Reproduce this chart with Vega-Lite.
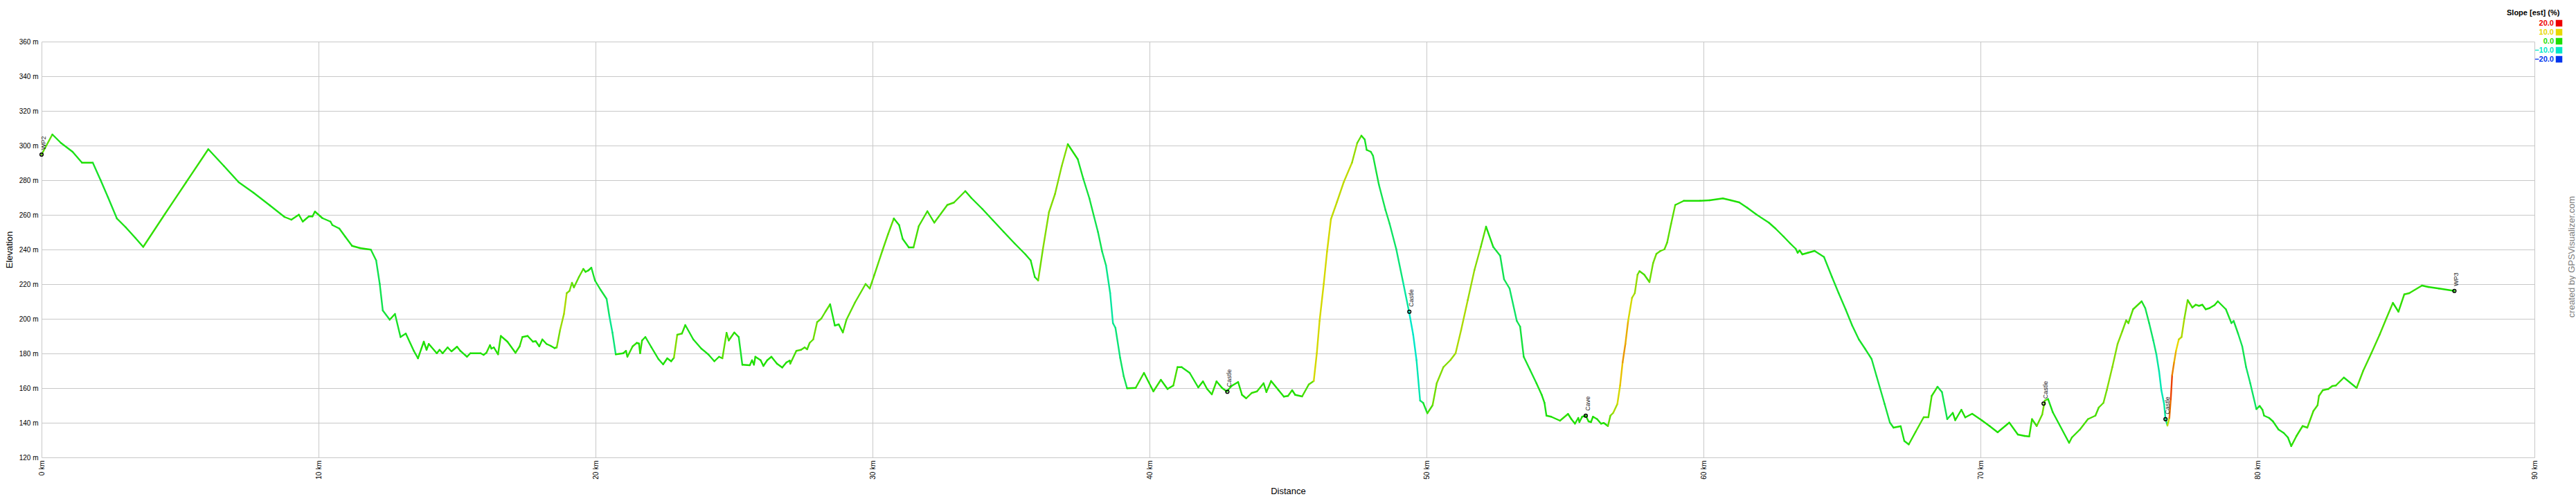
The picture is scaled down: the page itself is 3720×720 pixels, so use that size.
{
  "$schema": "https://vega.github.io/schema/vega-lite/v6.json",
  "autosize": {"type": "none"},
  "width": 3600,
  "height": 600,
  "padding": {"left": 60, "top": 60, "right": 60, "bottom": 60},
  "background": "white",
  "config": {
    "font": "Liberation Sans",
    "view": {"stroke": null},
    "axis": {"gridColor": "#c8c8c8", "gridWidth": 1, "domain": false, "ticks": false, "labelColor": "#000000", "labelFontSize": 10, "titleFontWeight": "normal", "titleFontSize": 13, "titleColor": "#000000"}
  },
  "resolve": {"axis": {"y": "independent"}},
  "datasets": {
    "profile": [
      {"d":0,"e":294.8,"s":3},{"d":0.39,"e":306.4,"s":-1},{"d":0.70,"e":301.5,"s":-1},{"d":1.12,"e":296.4,"s":-1},{"d":1.46,"e":290.1,"s":0},{"d":1.85,"e":290.1,"s":-2},{"d":2.13,"e":280.1,"s":-2},{"d":2.40,"e":270.1,"s":-2},{"d":2.72,"e":257.9,"s":-1},{"d":3.04,"e":252.8,"s":-1},{"d":3.38,"e":246.8,"s":-1},{"d":3.67,"e":241.5,"s":1},{"d":4.45,"e":260.4,"s":1},{"d":5.22,"e":278.8,"s":1},{"d":6.02,"e":297.9,"s":-1},{"d":6.59,"e":288.1,"s":-1},{"d":7.12,"e":278.8,"s":-1},{"d":7.65,"e":272.8,"s":-1},{"d":8.24,"e":265.5,"s":-1},{"d":8.77,"e":258.8,"s":0},{"d":9.02,"e":257.2,"s":0},{"d":9.29,"e":260.1,"s":0},{"d":9.43,"e":256.1,"s":0},{"d":9.65,"e":259.1,"s":0},{"d":9.78,"e":259.1,"s":0},{"d":9.87,"e":261.9,"s":0},{"d":10.14,"e":258.1,"s":-1},{"d":10.43,"e":256.1,"s":-1},{"d":10.50,"e":254.1,"s":-1},{"d":10.75,"e":252.1,"s":-1},{"d":10.96,"e":247.5,"s":-1},{"d":11.21,"e":242.1,"s":0},{"d":11.50,"e":240.8,"s":0},{"d":11.89,"e":239.9,"s":-2},{"d":12.08,"e":233.7,"s":-4},{"d":12.21,"e":220.1,"s":-4},{"d":12.32,"e":204.8,"s":-3},{"d":12.57,"e":199.5,"s":0},{"d":12.76,"e":202.8,"s":-2},{"d":12.96,"e":189.5,"s":-1},{"d":13.15,"e":191.5,"s":-1},{"d":13.44,"e":181.5,"s":-1},{"d":13.59,"e":177.2,"s":0},{"d":13.80,"e":186.8,"s":0},{"d":13.90,"e":182.1,"s":0},{"d":13.98,"e":185.5,"s":0},{"d":14.27,"e":180.1,"s":0},{"d":14.37,"e":182.1,"s":0},{"d":14.48,"e":180.1,"s":0},{"d":14.66,"e":183.5,"s":0},{"d":14.80,"e":181.2,"s":0},{"d":15.00,"e":183.9,"s":0},{"d":15.12,"e":181.5,"s":-1},{"d":15.36,"e":178.1,"s":0},{"d":15.48,"e":180.1,"s":0},{"d":15.85,"e":180.1,"s":0},{"d":15.96,"e":179.2,"s":0},{"d":16.06,"e":180.4,"s":1},{"d":16.19,"e":184.8,"s":0},{"d":16.24,"e":182.8,"s":0},{"d":16.33,"e":183.5,"s":0},{"d":16.48,"e":179.5,"s":1},{"d":16.58,"e":190.1,"s":0},{"d":16.82,"e":186.8,"s":0},{"d":17.11,"e":180.4,"s":1},{"d":17.26,"e":184.1,"s":1},{"d":17.36,"e":189.5,"s":0},{"d":17.55,"e":190.1,"s":0},{"d":17.74,"e":186.8,"s":0},{"d":17.84,"e":187.1,"s":0},{"d":17.97,"e":184.1,"s":0},{"d":18.08,"e":188.1,"s":0},{"d":18.23,"e":185.5,"s":0},{"d":18.38,"e":184.4,"s":0},{"d":18.52,"e":183.1,"s":0},{"d":18.60,"e":183.5,"s":4},{"d":18.72,"e":193.5,"s":6},{"d":18.86,"e":202.8,"s":7},{"d":18.96,"e":214.8,"s":5},{"d":19.06,"e":216.1,"s":4},{"d":19.15,"e":220.8,"s":3},{"d":19.22,"e":218.1,"s":3},{"d":19.40,"e":224.1,"s":3},{"d":19.56,"e":228.8,"s":1},{"d":19.64,"e":227.1,"s":0},{"d":19.74,"e":227.9,"s":0},{"d":19.85,"e":229.5,"s":-2},{"d":19.98,"e":222.1,"s":-2},{"d":20.18,"e":216.8,"s":-3},{"d":20.40,"e":211.5,"s":-5},{"d":20.50,"e":201.5,"s":-7},{"d":20.61,"e":192.1,"s":-6},{"d":20.73,"e":179.5,"s":0},{"d":21.00,"e":180.1,"s":0},{"d":21.10,"e":181.5,"s":0},{"d":21.15,"e":178.1,"s":1},{"d":21.34,"e":184.1,"s":1},{"d":21.49,"e":186.1,"s":0},{"d":21.57,"e":185.7,"s":0},{"d":21.61,"e":180.1,"s":1},{"d":21.68,"e":187.5,"s":0},{"d":21.80,"e":189.5,"s":-1},{"d":22.02,"e":183.5,"s":-1},{"d":22.27,"e":176.8,"s":-1},{"d":22.44,"e":173.7,"s":0},{"d":22.59,"e":177.2,"s":0},{"d":22.73,"e":175.5,"s":0},{"d":22.83,"e":177.5,"s":5},{"d":22.95,"e":190.8,"s":2},{"d":23.12,"e":191.5,"s":1},{"d":23.24,"e":196.4,"s":-1},{"d":23.53,"e":188.1,"s":-1},{"d":23.82,"e":182.8,"s":-1},{"d":24.07,"e":179.5,"s":-1},{"d":24.29,"e":175.5,"s":0},{"d":24.46,"e":178.1,"s":0},{"d":24.58,"e":177.2,"s":3},{"d":24.73,"e":191.9,"s":1},{"d":24.81,"e":187.5,"s":1},{"d":25.01,"e":192.1,"s":0},{"d":25.17,"e":189.5,"s":-2},{"d":25.30,"e":173.5,"s":0},{"d":25.57,"e":173.2,"s":0},{"d":25.65,"e":176.1,"s":0},{"d":25.72,"e":173.5,"s":0},{"d":25.77,"e":178.1,"s":0},{"d":25.96,"e":176.1,"s":0},{"d":26.06,"e":172.8,"s":0},{"d":26.20,"e":176.1,"s":0},{"d":26.35,"e":178.1,"s":0},{"d":26.55,"e":174.1,"s":0},{"d":26.74,"e":171.9,"s":0},{"d":26.89,"e":174.8,"s":0},{"d":27.01,"e":175.9,"s":0},{"d":27.03,"e":174.1,"s":2},{"d":27.25,"e":181.5,"s":2},{"d":27.42,"e":182.1,"s":2},{"d":27.55,"e":183.5,"s":2},{"d":27.64,"e":182.4,"s":2},{"d":27.73,"e":186.1,"s":3},{"d":27.86,"e":188.1,"s":4},{"d":28.00,"e":198.1,"s":3},{"d":28.15,"e":200.1,"s":3},{"d":28.30,"e":204.1,"s":3},{"d":28.47,"e":208.4,"s":-1},{"d":28.64,"e":196.1,"s":-1},{"d":28.78,"e":196.8,"s":0},{"d":28.93,"e":192.1,"s":2},{"d":29.06,"e":199.5,"s":3},{"d":29.37,"e":209.5,"s":3},{"d":29.75,"e":220.1,"s":2},{"d":29.90,"e":217.5,"s":3},{"d":30.07,"e":225.5,"s":3},{"d":30.36,"e":239.5,"s":3},{"d":30.56,"e":248.8,"s":3},{"d":30.77,"e":257.9,"s":0},{"d":30.96,"e":254.1,"s":-1},{"d":31.09,"e":246.1,"s":-1},{"d":31.31,"e":241.2,"s":0},{"d":31.48,"e":241.2,"s":2},{"d":31.67,"e":253.5,"s":2},{"d":31.98,"e":262.1,"s":1},{"d":32.23,"e":255.5,"s":2},{"d":32.70,"e":265.7,"s":2},{"d":32.94,"e":267.1,"s":2},{"d":33.35,"e":273.7,"s":0},{"d":33.57,"e":269.7,"s":-1},{"d":33.96,"e":263.5,"s":-1},{"d":34.35,"e":256.8,"s":-1},{"d":34.74,"e":250.1,"s":-1},{"d":35.13,"e":243.5,"s":-1},{"d":35.52,"e":237.2,"s":-1},{"d":35.71,"e":233.7,"s":-1},{"d":35.86,"e":224.1,"s":-1},{"d":35.98,"e":222.1,"s":4},{"d":36.15,"e":240.1,"s":5},{"d":36.37,"e":261.5,"s":5},{"d":36.59,"e":272.1,"s":5},{"d":36.83,"e":288.1,"s":5},{"d":37.05,"e":300.8,"s":0},{"d":37.41,"e":292.1,"s":-2},{"d":37.61,"e":280.8,"s":-3},{"d":37.83,"e":269.5,"s":-3},{"d":38.00,"e":258.8,"s":-4},{"d":38.14,"e":250.1,"s":-4},{"d":38.29,"e":238.8,"s":-5},{"d":38.43,"e":230.8,"s":-7},{"d":38.58,"e":214.8,"s":-8},{"d":38.68,"e":197.5,"s":-7},{"d":38.77,"e":194.8,"s":-6},{"d":38.94,"e":177.5,"s":-5},{"d":39.07,"e":166.8,"s":-4},{"d":39.19,"e":159.9,"s":0},{"d":39.50,"e":160.1,"s":1},{"d":39.80,"e":168.8,"s":0},{"d":40.14,"e":158.1,"s":1},{"d":40.41,"e":164.8,"s":0},{"d":40.65,"e":159.5,"s":0},{"d":40.86,"e":161.5,"s":2},{"d":41.01,"e":172.1,"s":0},{"d":41.16,"e":172.1,"s":-1},{"d":41.45,"e":168.8,"s":-1},{"d":41.76,"e":160.4,"s":0},{"d":41.93,"e":163.9,"s":0},{"d":42.08,"e":159.5,"s":0},{"d":42.25,"e":156.4,"s":1},{"d":42.42,"e":163.9,"s":0},{"d":42.62,"e":160.1,"s":0},{"d":42.79,"e":158.1,"s":0},{"d":42.96,"e":161.2,"s":0},{"d":43.20,"e":163.5,"s":0},{"d":43.34,"e":156.1,"s":0},{"d":43.49,"e":154.1,"s":1},{"d":43.69,"e":157.2,"s":1},{"d":43.88,"e":158.1,"s":1},{"d":44.12,"e":162.8,"s":0},{"d":44.22,"e":157.7,"s":1},{"d":44.39,"e":164.1,"s":0},{"d":44.66,"e":158.8,"s":0},{"d":44.85,"e":155.1,"s":0},{"d":45.00,"e":155.5,"s":1},{"d":45.15,"e":158.8,"s":0},{"d":45.26,"e":156.1,"s":0},{"d":45.51,"e":155.2,"s":2},{"d":45.75,"e":162.1,"s":3},{"d":45.93,"e":164.1,"s":9},{"d":46.04,"e":180.1,"s":9},{"d":46.14,"e":198.8,"s":9},{"d":46.29,"e":220.1,"s":9},{"d":46.41,"e":238.8,"s":9},{"d":46.55,"e":257.5,"s":8},{"d":46.77,"e":267.5,"s":8},{"d":47.01,"e":278.8,"s":8},{"d":47.31,"e":290.1,"s":6},{"d":47.50,"e":301.5,"s":3},{"d":47.65,"e":305.7,"s":0},{"d":47.77,"e":303.5,"s":-2},{"d":47.84,"e":297.5,"s":-1},{"d":47.99,"e":296.4,"s":-2},{"d":48.07,"e":294.1,"s":-3},{"d":48.28,"e":277.5,"s":-4},{"d":48.52,"e":262.8,"s":-4},{"d":48.67,"e":254.8,"s":-5},{"d":48.91,"e":240.1,"s":-6},{"d":49.15,"e":221.5,"s":-8},{"d":49.37,"e":204.1,"s":-10},{"d":49.52,"e":190.8,"s":-10},{"d":49.64,"e":176.1,"s":-9},{"d":49.77,"e":152.8,"s":-5},{"d":49.88,"e":151.5,"s":-2},{"d":50.03,"e":145.5,"s":2},{"d":50.22,"e":150.1,"s":4},{"d":50.37,"e":162.8,"s":5},{"d":50.61,"e":172.1,"s":5},{"d":50.86,"e":176.1,"s":6},{"d":51.05,"e":180.1,"s":7},{"d":51.25,"e":193.5,"s":7},{"d":51.49,"e":210.8,"s":6},{"d":51.73,"e":228.1,"s":5},{"d":51.96,"e":241.5,"s":3},{"d":52.15,"e":253.2,"s":-1},{"d":52.41,"e":241.5,"s":-3},{"d":52.66,"e":236.4,"s":-4},{"d":52.80,"e":222.8,"s":-4},{"d":53.00,"e":217.5,"s":-5},{"d":53.26,"e":198.8,"s":-4},{"d":53.38,"e":195.5,"s":-3},{"d":53.51,"e":178.1,"s":-2},{"d":53.73,"e":170.8,"s":-2},{"d":53.97,"e":162.8,"s":-1},{"d":54.16,"e":156.1,"s":-1},{"d":54.26,"e":151.5,"s":-1},{"d":54.33,"e":144.1,"s":0},{"d":54.50,"e":143.5,"s":0},{"d":54.82,"e":141.2,"s":1},{"d":55.11,"e":145.1,"s":0},{"d":55.23,"e":142.1,"s":0},{"d":55.36,"e":139.5,"s":0},{"d":55.48,"e":142.8,"s":0},{"d":55.52,"e":140.4,"s":0},{"d":55.62,"e":143.5,"s":0},{"d":55.75,"e":144.1,"s":0},{"d":55.85,"e":140.8,"s":0},{"d":55.94,"e":140.4,"s":0},{"d":56.01,"e":143.5,"s":0},{"d":56.16,"e":142.1,"s":0},{"d":56.30,"e":139.5,"s":0},{"d":56.40,"e":139.9,"s":0},{"d":56.55,"e":138.1,"s":3},{"d":56.64,"e":144.1,"s":5},{"d":56.74,"e":145.7,"s":7},{"d":56.89,"e":150.8,"s":9},{"d":56.99,"e":161.5,"s":11},{"d":57.08,"e":174.8,"s":13},{"d":57.18,"e":185.5,"s":12},{"d":57.28,"e":198.8,"s":9},{"d":57.42,"e":212.1,"s":7},{"d":57.52,"e":214.8,"s":6},{"d":57.62,"e":225.5,"s":4},{"d":57.69,"e":227.5,"s":2},{"d":57.86,"e":225.5,"s":2},{"d":58.05,"e":221.2,"s":4},{"d":58.18,"e":232.1,"s":4},{"d":58.30,"e":237.5,"s":3},{"d":58.44,"e":239.1,"s":3},{"d":58.59,"e":240.1,"s":3},{"d":58.69,"e":244.1,"s":3},{"d":58.83,"e":254.8,"s":3},{"d":58.98,"e":265.7,"s":1},{"d":59.29,"e":268.1,"s":0},{"d":59.88,"e":268.1,"s":0},{"d":60.22,"e":268.4,"s":0},{"d":60.70,"e":269.5,"s":0},{"d":60.99,"e":268.4,"s":0},{"d":61.29,"e":267.2,"s":-1},{"d":61.58,"e":264.1,"s":-1},{"d":61.92,"e":260.1,"s":-1},{"d":62.36,"e":255.5,"s":-1},{"d":62.60,"e":252.1,"s":-1},{"d":62.89,"e":247.5,"s":-1},{"d":63.13,"e":243.5,"s":-1},{"d":63.33,"e":240.4,"s":-1},{"d":63.40,"e":238.1,"s":0},{"d":63.47,"e":239.5,"s":0},{"d":63.57,"e":237.2,"s":0},{"d":63.77,"e":238.1,"s":0},{"d":64.01,"e":239.2,"s":-1},{"d":64.35,"e":235.7,"s":-2},{"d":64.64,"e":224.1,"s":-2},{"d":64.88,"e":214.8,"s":-2},{"d":65.13,"e":205.5,"s":-2},{"d":65.37,"e":196.1,"s":-2},{"d":65.61,"e":188.1,"s":-2},{"d":65.83,"e":182.8,"s":-2},{"d":66.07,"e":176.8,"s":-3},{"d":66.25,"e":166.8,"s":-3},{"d":66.54,"e":150.8,"s":-3},{"d":66.73,"e":140.1,"s":-2},{"d":66.86,"e":137.2,"s":0},{"d":67.12,"e":138.0,"s":-1},{"d":67.25,"e":129.5,"s":-1},{"d":67.41,"e":127.5,"s":1},{"d":67.66,"e":134.8,"s":2},{"d":67.95,"e":143.2,"s":2},{"d":68.12,"e":143.2,"s":2},{"d":68.24,"e":155.5,"s":1},{"d":68.45,"e":160.8,"s":-3},{"d":68.61,"e":157.7,"s":-4},{"d":68.80,"e":142.1,"s":-2},{"d":69.00,"e":145.7,"s":0},{"d":69.09,"e":141.5,"s":0},{"d":69.31,"e":147.5,"s":0},{"d":69.45,"e":143.1,"s":0},{"d":69.70,"e":145.2,"s":0},{"d":70.04,"e":141.5,"s":0},{"d":70.33,"e":138.1,"s":0},{"d":70.62,"e":134.5,"s":0},{"d":71.04,"e":140.1,"s":0},{"d":71.35,"e":133.2,"s":0},{"d":71.59,"e":132.4,"s":0},{"d":71.76,"e":132.1,"s":1},{"d":71.86,"e":142.1,"s":1},{"d":72.03,"e":138.1,"s":3},{"d":72.23,"e":144.8,"s":4},{"d":72.32,"e":152.8,"s":2},{"d":72.44,"e":153.7,"s":-1},{"d":72.61,"e":146.1,"s":-1},{"d":73.20,"e":128.4,"s":1},{"d":73.30,"e":131.5,"s":1},{"d":73.59,"e":136.1,"s":2},{"d":73.88,"e":142.1,"s":2},{"d":74.15,"e":144.1,"s":2},{"d":74.27,"e":148.8,"s":3},{"d":74.44,"e":151.5,"s":4},{"d":74.56,"e":158.8,"s":5},{"d":74.76,"e":172.1,"s":5},{"d":74.95,"e":185.5,"s":5},{"d":75.12,"e":192.8,"s":4},{"d":75.26,"e":199.1,"s":3},{"d":75.34,"e":197.5,"s":3},{"d":75.51,"e":205.5,"s":2},{"d":75.82,"e":210.1,"s":-2},{"d":75.95,"e":206.1,"s":-4},{"d":76.09,"e":197.5,"s":-5},{"d":76.24,"e":187.5,"s":-6},{"d":76.35,"e":179.5,"s":-8},{"d":76.45,"e":169.5,"s":-9},{"d":76.53,"e":158.8,"s":-9},{"d":76.63,"e":150.8,"s":-8},{"d":76.68,"e":142.1,"s":-6},{"d":76.75,"e":138.4,"s":8},{"d":76.82,"e":142.8,"s":15},{"d":76.87,"e":153.5,"s":17},{"d":76.92,"e":167.5,"s":14},{"d":76.99,"e":174.8,"s":12},{"d":77.06,"e":181.5,"s":10},{"d":77.16,"e":188.1,"s":8},{"d":77.26,"e":189.5,"s":7},{"d":77.36,"e":200.1,"s":5},{"d":77.48,"e":210.8,"s":2},{"d":77.65,"e":206.5,"s":1},{"d":77.77,"e":208.1,"s":1},{"d":77.89,"e":207.5,"s":0},{"d":78.01,"e":208.1,"s":0},{"d":78.13,"e":205.5,"s":0},{"d":78.26,"e":206.1,"s":0},{"d":78.45,"e":207.9,"s":0},{"d":78.57,"e":210.1,"s":-1},{"d":78.86,"e":205.5,"s":-2},{"d":79.06,"e":197.5,"s":-3},{"d":79.14,"e":198.8,"s":-3},{"d":79.30,"e":191.5,"s":-4},{"d":79.45,"e":184.1,"s":-4},{"d":79.59,"e":172.1,"s":-5},{"d":79.74,"e":162.8,"s":-5},{"d":79.96,"e":147.9,"s":-2},{"d":80.08,"e":149.7,"s":-1},{"d":80.18,"e":147.5,"s":-1},{"d":80.24,"e":144.1,"s":-1},{"d":80.42,"e":142.8,"s":-1},{"d":80.56,"e":140.8,"s":-1},{"d":80.76,"e":136.1,"s":-1},{"d":80.95,"e":134.1,"s":-1},{"d":81.10,"e":131.5,"s":-1},{"d":81.22,"e":126.5,"s":1},{"d":81.41,"e":132.4,"s":1},{"d":81.63,"e":138.1,"s":1},{"d":81.80,"e":137.2,"s":2},{"d":82.02,"e":146.8,"s":2},{"d":82.17,"e":150.1,"s":2},{"d":82.22,"e":155.5,"s":2},{"d":82.36,"e":158.8,"s":1},{"d":82.56,"e":159.5,"s":1},{"d":82.70,"e":161.2,"s":1},{"d":82.83,"e":161.5,"s":1},{"d":83.12,"e":166.1,"s":-1},{"d":83.58,"e":160.1,"s":2},{"d":83.82,"e":170.1,"s":2},{"d":84.11,"e":180.1,"s":2},{"d":84.41,"e":190.8,"s":2},{"d":84.65,"e":200.1,"s":2},{"d":84.89,"e":209.2,"s":0},{"d":85.09,"e":204.1,"s":1},{"d":85.30,"e":214.1,"s":1},{"d":85.48,"e":214.8,"s":1},{"d":85.94,"e":219.2,"s":0},{"d":86.16,"e":218.4,"s":0},{"d":86.55,"e":217.5,"s":0},{"d":87.11,"e":216.1,"s":0}
    ],
    "wpts": [
      {"d":0,"e":294.8,"name":"WP2"},
      {"d":42.81,"e":157.9,"name":"Castle"},
      {"d":49.38,"e":204.1,"name":"Castle"},
      {"d":55.75,"e":144.1,"name":"Cave"},
      {"d":72.28,"e":151.1,"name":"Castle"},
      {"d":76.68,"e":142.1,"name":"Castle"},
      {"d":87.11,"e":216.1,"name":"WP3"}
    ]
  },
  "layer": [
    {
      "data": {"name": "profile"},
      "transform": [
        {"window": [{"op": "lead", "field": "d", "as": "d2"}, {"op": "lead", "field": "e", "as": "e2"}], "sort": [{"field": "d", "order": "ascending"}]},
        {"filter": "datum.d2 != null"}
      ],
      "mark": {"type": "rule", "strokeWidth": 2.4, "strokeCap": "round"},
      "encoding": {
        "x": {"field": "d", "type": "quantitative", "scale": {"domain": [0, 90], "nice": false, "zero": false},
          "axis": {"values": [0,10,20,30,40,50,60,70,80,90], "labelExpr": "datum.value + ' km'", "labelAngle": 270, "labelAlign": "right", "labelBaseline": "middle", "labelPadding": 4, "title": "Distance", "titleX": 1800, "titleY": 48, "titleBaseline": "middle", "titleAlign": "center"}},
        "x2": {"field": "d2"},
        "y": {"field": "e", "type": "quantitative", "scale": {"domain": [120, 360], "nice": false, "zero": false},
          "axis": {"orient": "left", "values": [120,140,160,180,200,220,240,260,280,300,320,340,360], "labelExpr": "datum.value + ' m'", "labelPadding": 5, "title": "Elevation", "titleX": -47, "titleY": 300, "titleAngle": -90, "titleBaseline": "middle", "titleAlign": "center"}},
        "y2": {"field": "e2"},
        "color": {"field": "s", "type": "quantitative",
          "scale": {"domain": [-20, -10, 0, 10, 20], "range": ["#0035ee", "#00e8c8", "#1ee000", "#e8d800", "#ee0000"], "interpolate": "rgb"},
          "legend": {"type": "symbol", "values": [20, 10, 0, -10, -20], "format": ".1f", "title": "Slope [est] (%)", "orient": "none", "legendX": 3560, "legendY": -47, "direction": "vertical", "symbolType": "square", "symbolSize": 90, "symbolStrokeWidth": 0, "symbolOpacity": 1, "symbolOffset": 70, "labelFontSize": 11, "labelFontWeight": "bold", "labelAlign": "right", "labelOffset": -13, "titleFontSize": 11, "titleFontWeight": "bold", "titleColor": "#000000", "titleAnchor": "start", "titlePadding": 4, "rowPadding": 1, "padding": 0,
            "encode": {"labels": {"update": {"fill": {"scale": "color", "field": "value"}, "align": {"value": "right"}}}, "symbols": {"update": {"fill": {"scale": "color", "field": "value"}, "stroke": {"value": "transparent"}, "opacity": {"value": 1}}}}}
        }
      }
    },
    {
      "data": {"name": "wpts"},
      "mark": {"type": "point", "shape": "circle", "filled": false, "stroke": "#000000", "strokeWidth": 1.5, "size": 22, "opacity": 1},
      "encoding": {
        "x": {"field": "d", "type": "quantitative"},
        "y": {"field": "e", "type": "quantitative",
          "axis": {"orient": "right", "labels": false, "ticks": false, "domain": false, "grid": false, "title": "created by GPSVisualizer.com", "titleColor": "#808080", "titleFontSize": 13, "titleAngle": -90, "titleX": 53, "titleY": 310, "titleBaseline": "middle", "titleAlign": "center"}}
      }
    },
    {
      "data": {"name": "wpts"},
      "mark": {"type": "text", "angle": 270, "align": "left", "baseline": "middle", "dx": 7, "dy": 3, "fontSize": 9, "color": "#222222", "font": "Liberation Sans"},
      "encoding": {
        "x": {"field": "d", "type": "quantitative"},
        "y": {"field": "e", "type": "quantitative", "axis": null},
        "text": {"field": "name"}
      }
    }
  ]
}
